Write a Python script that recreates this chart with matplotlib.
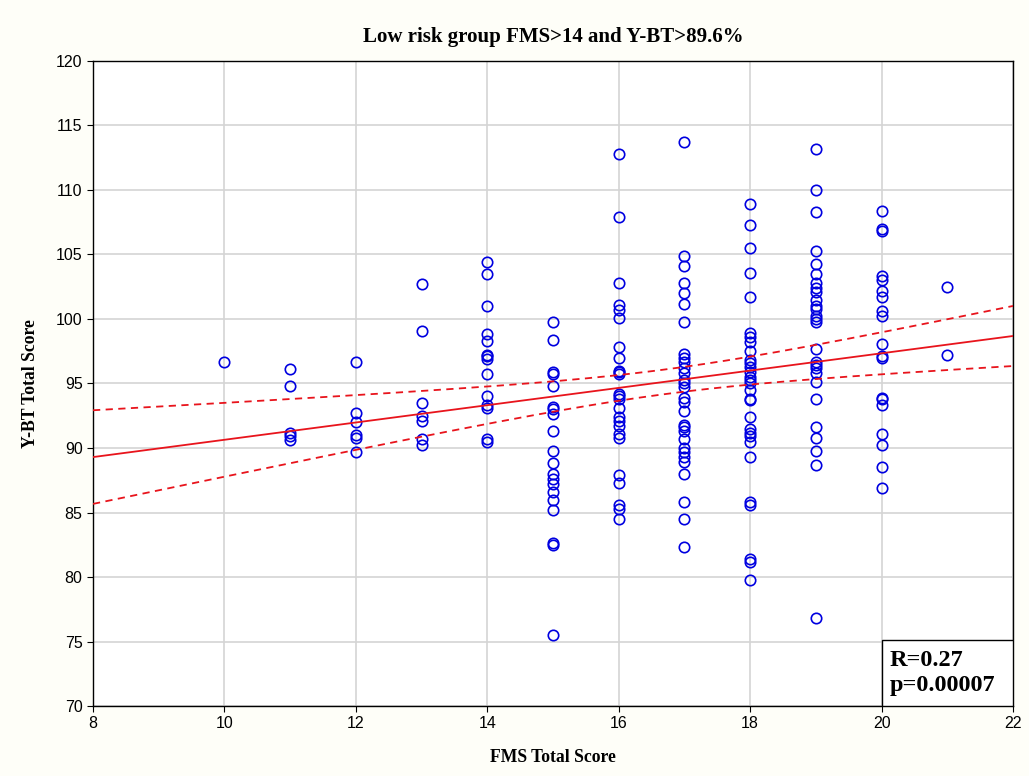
import numpy as np
import matplotlib
matplotlib.use('Agg')
import matplotlib.pyplot as plt
from matplotlib.patches import Rectangle

# FMS score -> Y-BT scores, one list per FMS column
ybt_by_fms = {
    10: [96.7],
    11: [96.1, 94.8, 91.2, 90.9, 90.6],
    12: [96.7, 92.7, 92.0, 91.0, 90.8, 89.7],
    13: [102.7, 99.1, 93.5, 92.5, 92.1, 90.7, 90.2],
    14: [104.4, 103.5, 101.0, 98.8, 98.3, 97.2, 97.1, 96.9, 95.7, 94.0,
         93.3, 93.1, 90.7, 90.5],
    15: [99.8, 98.4, 95.9, 95.7, 94.8, 93.2, 93.0, 92.6, 91.3, 89.8,
         88.8, 88.0, 87.6, 87.2, 86.6, 86.0, 85.2, 82.6, 82.5, 75.5],
    16: [112.8, 107.9, 102.8, 101.1, 100.7, 100.1, 97.8, 97.0, 96.0, 95.9,
         95.7, 94.2, 94.0, 93.8, 93.1, 92.4, 92.1, 91.7, 91.1, 90.8,
         87.9, 87.3, 85.6, 85.3, 84.5],
    17: [113.7, 104.9, 104.1, 102.8, 102.0, 101.2, 99.8, 97.3, 97.0, 96.7,
         96.2, 95.8, 95.3, 95.0, 94.7, 93.9, 93.6, 92.9, 91.8, 91.6,
         91.3, 90.7, 90.0, 89.7, 89.3, 88.9, 88.0, 85.8, 84.5, 82.3],
    18: [108.9, 107.3, 105.5, 103.6, 101.7, 98.9, 98.6, 98.2, 97.5, 96.8,
         96.6, 96.3, 95.9, 95.5, 95.3, 95.0, 94.5, 93.8, 93.7, 92.4,
         91.5, 91.2, 90.9, 90.5, 89.3, 85.8, 85.6, 81.4, 81.2, 79.8],
    19: [113.2, 110.0, 108.3, 105.3, 104.3, 103.5, 102.8, 102.4, 102.1, 101.5,
         101.0, 100.8, 100.2, 100.0, 99.8, 97.7, 96.7, 96.4, 96.2, 95.8,
         95.1, 93.8, 91.6, 90.8, 89.8, 88.7, 76.8],
    20: [108.4, 107.0, 106.8, 103.3, 103.0, 102.2, 101.7, 100.6, 100.2, 98.1,
         97.1, 97.0, 93.9, 93.8, 93.3, 91.1, 90.2, 88.5, 86.9],
    21: [102.5, 97.2],
}

title = 'Low risk group FMS>14 and Y-BT>89.6%'
stats_text = 'R=0.27\np=0.00007'

fms = np.concatenate([[k] * len(v) for k, v in ybt_by_fms.items()]).astype(float)
ybt = np.concatenate([v for v in ybt_by_fms.values()])

# linear fit with 95% confidence band
slope, intercept = np.polyfit(fms, ybt, 1)
n = len(fms)
resid = ybt - (slope * fms + intercept)
s = np.sqrt(np.sum(resid ** 2) / (n - 2))
sxx = np.sum((fms - fms.mean()) ** 2)
xx = np.linspace(8, 22, 200)
yy = slope * xx + intercept
half = 1.97 * s * np.sqrt(1 / n + (xx - fms.mean()) ** 2 / sxx)

fig = plt.figure(figsize=(10.29, 7.76), dpi=100, facecolor='#fefef8')
ax = fig.add_axes([0.0904, 0.0902, 0.8941, 0.8312])
ax.set_facecolor('white')

ax.plot(fms, ybt, 'o', mfc='none', mec='#0000e0', mew=1.2, ms=7.5, zorder=3)
ax.plot(xx, yy, color='#e8141c', lw=1.3, zorder=4)
ax.plot(xx, yy + half, color='#e8141c', lw=1.3, ls=(0, (4, 3)), zorder=4)
ax.plot(xx, yy - half, color='#e8141c', lw=1.3, ls=(0, (4, 3)), zorder=4)

ax.set_xlim(8, 22)
ax.set_ylim(70, 120)
ax.set_xticks(np.arange(8, 23, 2))
ax.set_yticks(np.arange(70, 121, 5))
ax.grid(True, color='#d4d4d4', lw=1.2)
ax.set_axisbelow(True)
ax.tick_params(labelsize=11.5, direction='out', length=4)
for lab in ax.get_xticklabels() + ax.get_yticklabels():
    lab.set_fontfamily('Liberation Sans')
for sp in ax.spines.values():
    sp.set_linewidth(1.0)

serif = 'Liberation Serif'
ax.set_title(title, fontfamily=serif, fontweight='bold', fontsize=15, pad=14)
ax.set_xlabel('FMS Total Score', fontfamily=serif, fontweight='bold', fontsize=12.7, labelpad=13)
ax.set_ylabel('Y-BT Total Score', fontfamily=serif, fontweight='bold', fontsize=12.7, labelpad=12)

# stats box in the lower right corner
ax.add_patch(Rectangle((0.858, 0.0), 0.142, 0.102, transform=ax.transAxes,
                       facecolor='white', edgecolor='black', lw=1.0, zorder=5))
ax.text(0.866, 0.051, stats_text, transform=ax.transAxes, fontfamily=serif,
        fontweight='bold', fontsize=17.5, va='center', ha='left', linespacing=1.25, zorder=6)

fig.savefig('out.png', dpi=100, facecolor=fig.get_facecolor())
